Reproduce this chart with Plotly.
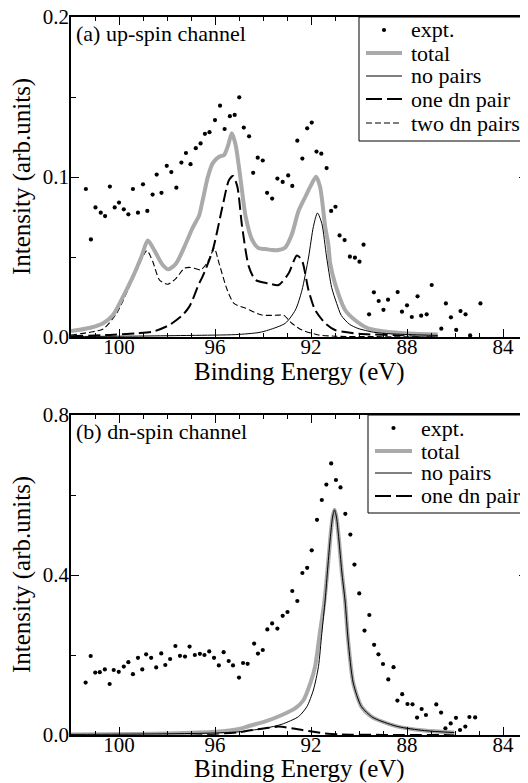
import plotly.graph_objects as go

# ---------------- data: (a) up-spin channel ----------------
up_expt_x = [101.38, 101.17, 100.98, 100.76, 100.58, 100.38, 100.18, 100.0, 99.8, 99.61,
             99.42, 99.21, 99.0, 98.82, 98.6, 98.43, 98.23, 98.01, 97.82, 97.61,
             97.40, 97.21, 97.02, 96.8, 96.6, 96.42, 96.23, 96.0, 95.79, 95.6,
             95.38, 95.18, 94.99, 94.8, 94.58, 94.41, 94.22, 94.01, 93.83, 93.62,
             93.4, 93.18, 92.95, 92.78, 92.57, 92.36, 92.16, 91.97, 91.77, 91.57,
             91.35, 91.16, 90.98, 90.81, 90.6, 90.38, 90.17, 89.98, 89.81, 89.58,
             89.38, 89.18, 88.98, 88.79, 88.39, 88.21, 88.0, 87.8, 87.56, 87.41,
             87.18, 86.97, 86.57, 86.38, 86.17, 85.95, 85.77, 85.56, 85.37, 84.94]
up_expt_y = [0.0925, 0.061, 0.081, 0.0777, 0.0756, 0.094, 0.081, 0.084, 0.0798, 0.0767,
             0.0925, 0.0777, 0.0954, 0.0788, 0.089, 0.1015, 0.0901, 0.107, 0.1031, 0.0933,
             0.109, 0.115, 0.108, 0.118, 0.121, 0.127, 0.128, 0.1356, 0.1446, 0.130,
             0.138, 0.1388, 0.1498, 0.1309, 0.1254, 0.1026, 0.1121, 0.1103, 0.0901, 0.0865,
             0.099, 0.0969, 0.101, 0.0944, 0.1227, 0.1115, 0.1304, 0.134, 0.1159, 0.1146,
             0.1056, 0.0788, 0.0814, 0.0635, 0.0606, 0.0502, 0.0496, 0.0471, 0.0577, 0.0142,
             0.0279, 0.0225, 0.017, 0.0233, 0.0281, 0.0158, 0.0198, 0.0125, 0.0254, 0.0133,
             0.0142, 0.0325, 0.0052, 0.021, 0.0123, 0.0044, 0.0162, 0.0142, 0.001, 0.021]

up_total_x = [102.0, 101.2, 100.66, 100.25, 99.83, 99.42, 99.07, 98.8, 98.52, 98.18,
              97.94, 97.62, 97.21, 96.94, 96.66, 96.52, 96.3, 96.1, 95.83, 95.62,
              95.45, 95.3, 95.14, 94.93, 94.72, 94.45, 94.17, 93.9, 93.62, 93.35,
              93.07, 92.8, 92.52, 92.24, 92.03, 91.79, 91.62, 91.41, 91.28, 91.2,
              91.0, 90.58, 90.17, 89.62, 88.65, 87.68, 86.72]
up_total_y = [0.0037, 0.0058, 0.0086, 0.0137, 0.0252, 0.0377, 0.050, 0.0603, 0.054, 0.045,
              0.0423, 0.046, 0.0586, 0.068, 0.076, 0.085, 0.0999, 0.1085, 0.1127, 0.1137,
              0.120, 0.1273, 0.12, 0.098, 0.075, 0.0606, 0.0554, 0.055, 0.0544, 0.0544,
              0.056, 0.064, 0.0787, 0.0875, 0.094, 0.1002, 0.0938, 0.069, 0.058, 0.046,
              0.0335, 0.0169, 0.0106, 0.0054, 0.003, 0.002, 0.0015]

up_nopair_x = [102.0, 99.0, 97.0, 95.14, 94.17, 93.76, 93.07, 92.65, 92.38, 92.1,
               91.9, 91.73, 91.55, 91.35, 91.14, 90.93, 90.74, 90.4, 90.05, 89.4,
               88.7, 87.5, 86.72]
up_nopair_y = [0.0003, 0.0006, 0.001, 0.0015, 0.0028, 0.0044, 0.0086, 0.0169, 0.029, 0.050,
               0.069, 0.0775, 0.071, 0.050, 0.031, 0.021, 0.0135, 0.008, 0.0054, 0.003,
               0.002, 0.0013, 0.001]

up_one_x = [102.0, 100.39, 99.28, 98.59, 97.9, 97.35, 97.07, 96.94, 96.66, 96.52,
            96.1, 95.69, 95.42, 95.25, 95.07, 94.87, 94.59, 94.31, 93.76, 93.35,
            92.93, 92.59, 92.38, 92.1, 91.83, 91.41, 91.0, 90.0, 88.0, 86.72]
up_one_y = [0.0005, 0.0013, 0.0023, 0.0033, 0.0075, 0.0137, 0.019, 0.023, 0.0335, 0.0377,
            0.054, 0.0814, 0.098, 0.1006, 0.094, 0.069, 0.044, 0.0356, 0.0335, 0.0325,
            0.0398, 0.051, 0.048, 0.029, 0.0169, 0.0086, 0.0044, 0.002, 0.001, 0.0005]

up_two_x = [102.0, 101.2, 100.66, 100.1, 99.7, 99.28, 98.84, 98.59, 98.31, 97.97,
            97.62, 97.28, 97.07, 96.87, 96.59, 96.3, 96.03, 95.83, 95.49, 95.21,
            94.72, 94.04, 93.35, 93.14, 92.8, 92.38, 91.69, 91.0, 89.0, 86.72]
up_two_y = [0.0012, 0.003, 0.005, 0.0148, 0.027, 0.041, 0.054, 0.047, 0.0356, 0.033,
            0.0367, 0.043, 0.0435, 0.043, 0.042, 0.047, 0.0554, 0.046, 0.0294, 0.021,
            0.018, 0.0137, 0.0137, 0.0137, 0.0086, 0.0044, 0.0013, 0.0005, 0.0002, 0.0]

# ---------------- data: (b) dn-spin channel ----------------
dn_expt_x = [101.39, 101.18, 100.99, 100.8, 100.59, 100.39, 100.22, 100.01, 99.8, 99.61,
             99.42, 99.21, 99.03, 98.87, 98.66, 98.45, 98.24, 98.07, 97.87, 97.65,
             97.46, 97.25, 97.06, 96.84, 96.63, 96.44, 96.24, 96.04, 95.84, 95.64,
             95.43, 95.25, 95.0, 94.83, 94.64, 94.37, 94.21, 94.01, 93.82, 93.62,
             93.4, 93.18, 92.98, 92.78, 92.57, 92.36, 92.16, 91.97, 91.75, 91.55,
             91.36, 91.16, 90.96, 90.77, 90.57, 90.36, 90.19, 89.99, 89.77, 89.57,
             89.37, 89.19, 89.0, 88.78, 88.56, 88.4, 88.2, 87.98, 87.77, 87.58,
             87.39, 87.21, 86.78, 86.58, 86.4, 86.18, 85.96, 85.79, 85.57, 85.4, 85.16]
dn_expt_y = [0.131, 0.1975, 0.156, 0.157, 0.164, 0.1275, 0.1625, 0.158, 0.171, 0.182,
             0.152, 0.193, 0.164, 0.2017, 0.193, 0.169, 0.204, 0.175, 0.19, 0.2225,
             0.198, 0.196, 0.221, 0.2, 0.203, 0.2, 0.209, 0.193, 0.174, 0.207,
             0.185, 0.174, 0.1435, 0.18, 0.178, 0.2285, 0.2035, 0.2125, 0.264, 0.279,
             0.266, 0.298, 0.3075, 0.36, 0.335, 0.405, 0.418, 0.4617, 0.538, 0.5875,
             0.626, 0.679, 0.6375, 0.619, 0.553, 0.501, 0.426, 0.354, 0.261, 0.30,
             0.2255, 0.2017, 0.1775, 0.139, 0.1695, 0.086, 0.102, 0.0775, 0.0767, 0.0435,
             0.065, 0.05, 0.0765, 0.056, 0.0167, 0.029, 0.043, 0.0125, 0.021, 0.045, 0.044]

dn_total_x = [102.0, 98.0, 96.0, 95.0, 94.59, 93.9, 93.21, 92.65, 92.31, 92.03,
              91.83, 91.62, 91.45, 91.3, 91.2, 91.1, 91.02, 90.94, 90.84, 90.72,
              90.58, 90.45, 90.24, 89.9, 89.48, 89.2, 88.38, 87.27, 86.03]
dn_total_y = [0.0015, 0.004, 0.008, 0.015, 0.0225, 0.034, 0.05, 0.067, 0.0875, 0.129,
              0.171, 0.26, 0.33, 0.42, 0.49, 0.545, 0.563, 0.545, 0.49, 0.41,
              0.335, 0.235, 0.13, 0.071, 0.046, 0.0375, 0.021, 0.011, 0.006]

dn_nopair_x = [102.0, 100.0, 98.0, 96.0, 95.0, 94.59, 93.9, 93.21, 92.52, 92.17,
               91.9, 91.69, 91.55, 91.41, 91.3, 91.2, 91.1, 91.02, 90.94, 90.84,
               90.72, 90.58, 90.45, 90.24, 89.9, 89.48, 89.2, 88.38, 87.27, 86.03]
dn_nopair_y = [0.0015, 0.002, 0.003, 0.005, 0.008, 0.011, 0.017, 0.027, 0.046, 0.071,
               0.1125, 0.171, 0.254, 0.3375, 0.42, 0.49, 0.545, 0.563, 0.545, 0.49,
               0.41, 0.335, 0.235, 0.13, 0.071, 0.046, 0.0375, 0.021, 0.011, 0.006]

dn_one_x = [102.0, 98.0, 96.0, 95.0, 94.59, 93.9, 93.35, 92.8, 92.1, 91.41, 90.72, 89.0, 86.03]
dn_one_y = [0.0002, 0.001, 0.003, 0.007, 0.011, 0.0167, 0.021, 0.0167, 0.01, 0.004, 0.001, 0.0003, 0.0]

x_ticks = [100, 96, 92, 88, 84]
up_legend = ["expt.", "total", "no pairs", "one dn pair", "two dn pairs"]
dn_legend = ["expt.", "total", "no pairs", "one dn pair"]
panel_labels = ["(a) up-spin channel", "(b) dn-spin channel"]
x_title = "Binding Energy (eV)"
y_title = "Intensity (arb.units)"

# ---------------- styling ----------------
FONT = "'Liberation Serif', 'Times New Roman', Times, serif"
GRAY = "#aaaaaa"
OFF = 8                      # page body margin of the browser
W, H = 528 - OFF, 783 - OFF
L, T = 71 - OFF, 17 - OFF
R = W - (527 - OFF)
B = H - (735 - OFF)
PW, PH = W - L - R, H - T - B


def fx(p):
    """reference-picture x pixel -> paper coordinate"""
    return (p - OFF - L) / PW


def fy(p):
    """reference-picture y pixel -> paper coordinate"""
    return (H - B - (p - OFF)) / PH


styles = {
    "expt.": None,
    "total": dict(color=GRAY, width=4),
    "no pairs": dict(color="black", width=1),
    "one dn pair": dict(color="black", width=2, dash="12px,5px"),
    "two dn pairs": dict(color="black", width=1.1, dash="6px,3px"),
}

fig = go.Figure()


def add_panel(xa, ya, ex, ey, curves):
    fig.add_trace(go.Scatter(x=ex, y=ey, mode="markers", xaxis=xa, yaxis=ya,
                             marker=dict(color="black", size=4.2), showlegend=False))
    for name, cx, cy in curves:
        fig.add_trace(go.Scatter(x=cx, y=cy, mode="lines", xaxis=xa, yaxis=ya,
                                 line=dict(shape="spline", smoothing=0.7, **styles[name]),
                                 showlegend=False))


add_panel("x", "y", up_expt_x, up_expt_y,
          [("two dn pairs", up_two_x, up_two_y),
           ("one dn pair", up_one_x, up_one_y),
           ("total", up_total_x, up_total_y),
           ("no pairs", up_nopair_x, up_nopair_y)])
add_panel("x2", "y2", dn_expt_x, dn_expt_y,
          [("one dn pair", dn_one_x, dn_one_y),
           ("total", dn_total_x, dn_total_y),
           ("no pairs", dn_nopair_x, dn_nopair_y)])

axis_common = dict(showline=True, linecolor="black", linewidth=1.5, mirror="allticks",
                   ticks="inside", ticklen=8, tickwidth=1, tickcolor="black",
                   showgrid=False, zeroline=False, automargin=False,
                   ticklabeloverflow="allow",
                   tickfont=dict(family=FONT, size=21, color="black"))
xcommon = dict(axis_common, range=[102, 83], tickvals=x_ticks, ticklabelstandoff=-10,
               minor=dict(ticks="inside", dtick=1, tick0=84, ticklen=4, tickcolor="black"))
ycommon = dict(axis_common, ticklabelstandoff=-4)

fig.update_layout(
    width=W, height=H, template="none",
    font=dict(family=FONT, color="black"),
    paper_bgcolor="white", plot_bgcolor="white",
    margin=dict(l=L, r=R, t=T, b=B),
    showlegend=False,
    xaxis=dict(xcommon, anchor="y"),
    xaxis2=dict(xcommon, anchor="y2"),
    yaxis=dict(ycommon, domain=[fy(337), 1], range=[0, 0.2], dtick=0.1, tickformat=".1f",
               minor=dict(ticks="inside", dtick=0.05, ticklen=5, tickcolor="black")),
    yaxis2=dict(ycommon, domain=[0, fy(415)], range=[0, 0.8], dtick=0.4, tickformat=".1f",
                minor=dict(ticks="inside", dtick=0.2, ticklen=5, tickcolor="black")),
)

shapes = []
annotations = []


def add_legend(labels, box, rows, key_x0, key_x1, text_x):
    x0, y0, x1, y1 = box
    shapes.append(dict(type="rect", xref="paper", yref="paper", x0=fx(x0), x1=fx(x1),
                       y0=fy(y1), y1=fy(y0), line=dict(color="black", width=1),
                       fillcolor="white", layer="above"))
    for lab, ry in zip(labels, rows):
        st = styles[lab]
        if st is None:
            shapes.append(dict(type="circle", xref="paper", yref="paper",
                               xsizemode="pixel", ysizemode="pixel",
                               xanchor=fx((key_x0 + key_x1) / 2), yanchor=fy(ry),
                               x0=-2.1, x1=2.1, y0=-2.1, y1=2.1,
                               fillcolor="black", line=dict(width=0)))
        else:
            ls = dict(st)
            if lab == "one dn pair":
                ls["dash"] = "16px,5px"
            shapes.append(dict(type="line", xref="paper", yref="paper",
                               x0=fx(key_x0), x1=fx(key_x1), y0=fy(ry), y1=fy(ry), line=ls))
        annotations.append(dict(text=lab, xref="paper", yref="paper", x=fx(text_x), y=fy(ry),
                                xanchor="left", yanchor="middle", showarrow=False,
                                font=dict(family=FONT, size=22, color="black")))


add_legend(up_legend, (359, 17, 527, 141), [30, 53, 76, 99, 123], 366, 402, 409)
add_legend(dn_legend, (368, 415, 527, 513), [428, 451, 473, 496], 375, 412, 419)

for lab, py in zip(panel_labels, [33, 432]):
    annotations.append(dict(text=lab, xref="paper", yref="paper", x=fx(74), y=fy(py),
                            xanchor="left", yanchor="middle", showarrow=False,
                            font=dict(family=FONT, size=22, color="black")))

# axis titles for each panel
for py in [372, 769]:
    annotations.append(dict(text=x_title, xref="paper", yref="paper", x=0.5, y=fy(py),
                            xanchor="center", yanchor="middle", showarrow=False,
                            font=dict(family=FONT, size=25, color="black")))
for py in [177, 575]:
    annotations.append(dict(text=y_title, xref="paper", yref="paper", x=fx(22), y=fy(py),
                            xanchor="center", yanchor="middle", showarrow=False,
                            textangle=-90,
                            font=dict(family=FONT, size=25, color="black")))

fig.update_layout(shapes=shapes, annotations=annotations)
fig.write_html("out.html")
